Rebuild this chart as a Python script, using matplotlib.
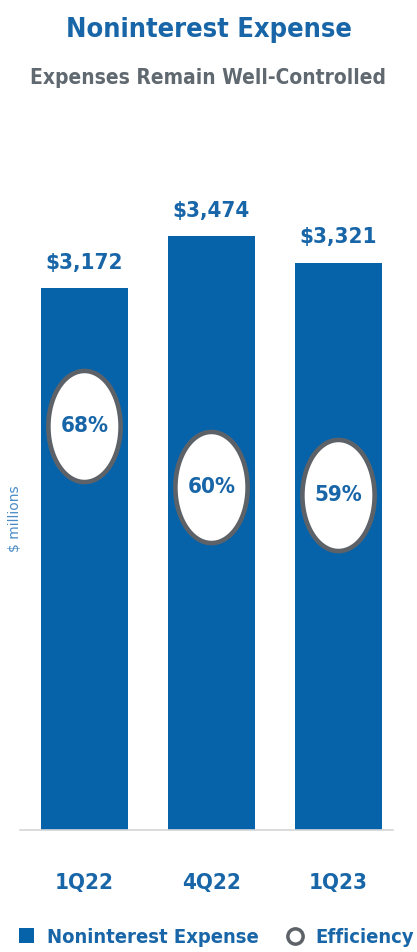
import matplotlib
matplotlib.use("Agg")
import matplotlib.pyplot as plt
import numpy as np
from matplotlib.path import Path
from matplotlib.patches import Patch
from matplotlib.lines import Line2D

# quarterly noninterest expense ($ millions) and efficiency ratio (%)
quarters = ["1Q22", "4Q22", "1Q23"]
expense = [3172, 3474, 3321]
efficiency = [68, 60, 59]

BLUE = "#0663aa"
TEXT_BLUE = "#1866a8"
GREY = "#606870"
RING = "#5d6268"

plt.rcParams["font.family"] = ["DejaVu Sans"]
plt.rcParams["font.stretch"] = "condensed"

fig = plt.figure(figsize=(4.17, 9.52), dpi=100)
ax = fig.add_axes([0.048, 0.1282, 0.894, 0.7143])

x = np.arange(len(quarters))
ax.bar(x, expense, width=0.685, color=BLUE, zorder=2)
ax.set_xlim(-0.508, 2.43)
ax.set_ylim(0, 3980)

for xi, v in zip(x, expense):
    ax.annotate(f"${v:,}", (xi, v), xytext=(0, 11), textcoords="offset points",
                ha="center", va="bottom", fontsize=16, fontweight="bold",
                color=TEXT_BLUE)

ax.set_xticks(x)
ax.set_xticklabels(quarters, fontsize=16, fontweight="bold", color=TEXT_BLUE)
ax.tick_params(axis="x", length=0, pad=31)
ax.set_yticks([])
for side in ("top", "right", "left"):
    ax.spines[side].set_visible(False)
ax.spines["bottom"].set_color("#d4d6d8")
ax.spines["bottom"].set_linewidth(1.2)

# efficiency ratio on a hidden second scale, drawn as white rings
ax2 = ax.twinx()
ax2.set_ylim(15.0, 104.3)
ax2.set_yticks([])
for s in ax2.spines.values():
    s.set_visible(False)

t = np.linspace(0, 2 * np.pi, 100)
ring = Path(np.column_stack([0.65 * np.cos(t), np.sin(t)]), closed=True)
ax2.plot(x, efficiency, linestyle="none", marker=ring, markersize=80,
         markerfacecolor="white", markeredgecolor=RING, markeredgewidth=3.3,
         zorder=3)
for xi, e in zip(x, efficiency):
    ax2.text(xi, e, f"{e}%", ha="center", va="center", fontsize=16,
             fontweight="bold", color=TEXT_BLUE, zorder=4)

fig.text(0.036, 0.455, "$ millions", rotation=90, ha="center", va="center",
         fontsize=10, color="#4a8cc6", fontstretch="normal")

fig.text(0.5, 0.968, "Noninterest Expense", ha="center", va="center",
         fontsize=19.5, fontweight="bold", color=TEXT_BLUE)
fig.text(0.5, 0.918, "Expenses Remain Well-Controlled", ha="center",
         va="center", fontsize=15, fontweight="bold", color=GREY)

handles = [
    Patch(facecolor=BLUE, edgecolor="none"),
    Line2D([], [], linestyle="none", marker="o", markersize=11,
           markerfacecolor="white", markeredgecolor=RING, markeredgewidth=2.5),
]
fig.legend(handles, ["Noninterest Expense", "Efficiency"], loc="center",
           bbox_to_anchor=(0.519, 0.0155), ncol=2, frameon=False,
           prop={"size": 14.5, "weight": "bold", "stretch": "condensed"},
           labelcolor=TEXT_BLUE,
           handlelength=0.75, handleheight=0.75, handletextpad=0.65,
           columnspacing=1.4, borderpad=0, borderaxespad=0)

fig.savefig("out.png", dpi=100)
